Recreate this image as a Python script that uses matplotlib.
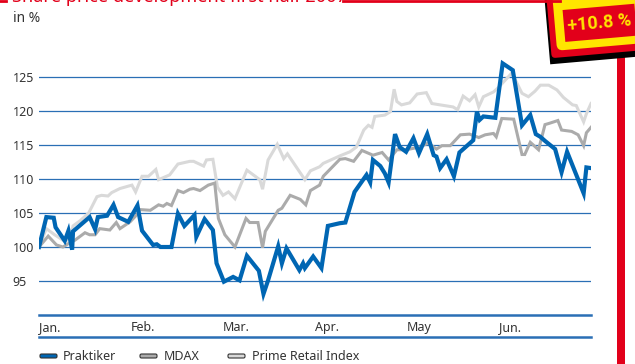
import numpy as np
import matplotlib
matplotlib.use('Agg')
import matplotlib.pyplot as plt
from matplotlib.patches import Rectangle, FancyBboxPatch
from matplotlib.transforms import Affine2D

# x positions in months since 1 Jan (0 = Jan, 6 = end of Jun), values indexed to 100
prak_x = [0, 0.08, 0.16, 0.18, 0.28, 0.32, 0.36, 0.37, 0.55, 0.61, 0.64, 0.74, 0.81, 0.86,
          0.97, 1.07, 1.12, 1.24, 1.28, 1.32, 1.44, 1.51, 1.58, 1.69, 1.71, 1.80, 1.89, 1.93,
          2.01, 2.11, 2.18, 2.26, 2.39, 2.44, 2.49, 2.60, 2.64, 2.69, 2.83, 2.87, 2.89, 2.98,
          3.07, 3.14, 3.27, 3.33, 3.43, 3.56, 3.60, 3.63, 3.71, 3.76, 3.80, 3.87, 3.92, 3.99,
          4.07, 4.13, 4.22, 4.29, 4.32, 4.36, 4.43, 4.51, 4.57, 4.72, 4.76, 4.79, 4.83, 4.96,
          5.04, 5.15, 5.25, 5.34, 5.40, 5.45, 5.50, 5.61, 5.68, 5.74, 5.92, 5.95, 6.0]
prak_y = [100, 104.4, 104.3, 102.9, 100.9, 102.4, 99.6, 102.3, 104.4, 102.6, 104.4, 104.6, 106.2, 104.4,
          103.7, 106.1, 102.4, 100.3, 100.4, 100, 100, 104.9, 103.1, 104.7, 101.5, 104.1, 102.5, 97.6,
          94.9, 95.6, 95.1, 98.7, 96.5, 93.1, 95.1, 100.1, 97.6, 99.8, 96.6, 97.6, 96.9, 98.6,
          96.9, 103.1, 103.5, 103.6, 108.1, 110.6, 109.5, 112.8, 111.9, 110.8, 109.5, 116.6, 114.7, 114.0,
          116.0, 113.8, 116.6, 113.5, 113.3, 111.6, 112.9, 110.4, 113.9, 115.7, 119.9, 118.7, 119.2, 119.0,
          127.0, 126.0, 117.9, 119.4, 116.6, 116.2, 115.6, 114.4, 111.0, 114.0, 107.9, 111.7, 111.6]

mdax_x = [0, 0.10, 0.19, 0.26, 0.32, 0.39, 0.50, 0.55, 0.61, 0.66, 0.77, 0.84, 0.88, 0.99,
          1.06, 1.10, 1.21, 1.30, 1.35, 1.39, 1.44, 1.51, 1.57, 1.64, 1.68, 1.75, 1.84, 1.91,
          1.95, 2.02, 2.13, 2.25, 2.29, 2.38, 2.43, 2.46, 2.60, 2.64, 2.73, 2.84, 2.90, 2.95,
          3.05, 3.09, 3.27, 3.33, 3.42, 3.51, 3.63, 3.73, 3.80, 3.89, 3.99, 4.14, 4.23, 4.32,
          4.38, 4.47, 4.58, 4.68, 4.78, 4.85, 4.94, 4.97, 5.03, 5.16, 5.25, 5.28, 5.34, 5.43,
          5.50, 5.55, 5.64, 5.68, 5.79, 5.86, 5.92, 5.95, 6.0]
mdax_y = [100, 101.6, 100.3, 100, 100.5, 101, 102.1, 101.8, 101.8, 102.7, 102.5, 103.6, 102.7, 103.7,
          104.7, 105.5, 105.4, 106.2, 106, 106.4, 106.1, 108.3, 108, 108.5, 108.6, 108.3, 109.1, 109.4,
          104.2, 101.8, 100, 104.2, 103.6, 103.6, 99.9, 102.3, 105.4, 105.7, 107.6, 107, 106.2, 108.3,
          109.1, 110.4, 112.9, 113, 112.6, 114.2, 113.5, 113.9, 112.8, 114.3, 114.3, 114.7, 115.3, 114.4,
          114.9, 114.9, 116.5, 116.6, 116.1, 116.5, 116.7, 116.2, 118.9, 118.8, 113.6, 113.6, 115.4, 114.3,
          118, 118.2, 118.6, 117.2, 117, 116.5, 114.9, 116.8, 117.6]

prime_x = [0, 0.08, 0.17, 0.26, 0.34, 0.37, 0.45, 0.54, 0.63, 0.68, 0.75, 0.79, 0.88, 1.01,
           1.05, 1.12, 1.19, 1.27, 1.30, 1.42, 1.51, 1.64, 1.68, 1.79, 1.82, 1.89, 1.94, 2.00,
           2.06, 2.13, 2.26, 2.40, 2.43, 2.49, 2.59, 2.66, 2.70, 2.89, 2.95, 3.05, 3.09, 3.27,
           3.38, 3.45, 3.53, 3.58, 3.62, 3.65, 3.76, 3.82, 3.86, 3.89, 3.94, 4.03, 4.11, 4.21,
           4.27, 4.36, 4.50, 4.55, 4.61, 4.68, 4.74, 4.78, 4.83, 4.94, 4.99, 5.14, 5.25, 5.32,
           5.39, 5.45, 5.54, 5.63, 5.70, 5.80, 5.84, 5.92, 5.95, 6.0]
prime_y = [100, 102.7, 101.8, 101, 101, 103.1, 103.9, 105, 107.4, 107.6, 107.5, 108, 108.6, 109.1,
           108.1, 110.4, 110.4, 111.4, 109.9, 110.6, 112.2, 112.6, 112.6, 111.9, 112.8, 112.9, 108.8, 107.6,
           108.1, 107.1, 111.3, 109.9, 108.5, 112.8, 115.1, 113, 113.7, 109.9, 111.2, 111.8, 112.3, 113.4,
           114, 114.7, 117.2, 117.9, 117.6, 119.2, 119.4, 119.9, 123.2, 121.4, 120.9, 121.2, 122.5, 122.7,
           121.1, 120.9, 120.6, 120.2, 122.2, 121.5, 122.4, 120.6, 122.1, 122.8, 123.4, 125.6, 122.6, 122.1,
           122.9, 123.8, 123.8, 123.1, 122, 120.9, 120.8, 118.4, 119.6, 121.1]

months = ['Jan.', 'Feb.', 'Mar.', 'Apr.', 'May', 'Jun.']
yticks = [95, 100, 105, 110, 115, 120, 125]
series_names = ['Praktiker', 'MDAX', 'Prime Retail Index']
title = 'Share price development first half 2007'
badge = '+10.8 %'

blue = '#0066b3'
grid_blue = '#2a6fb5'
mdax_grey = '#ababab'
prime_grey = '#d9d9d9'
red = '#e2001a'
yellow = '#ffe500'
txt = '#333333'

plt.rcParams['font.family'] = ['Noto Sans', 'DejaVu Sans']

fig = plt.figure(figsize=(6.35, 3.64), dpi=100)
fig.patch.set_facecolor('white')

ax = fig.add_axes([39 / 635, 1 - 315 / 364, 552 / 635, 272 / 364])
ax.set_xlim(0, 6)
ax.set_ylim(90, 130)
for s in ax.spines.values():
    s.set_visible(False)

for v in yticks:
    ax.axhline(v, color=grid_blue, lw=0.9, zorder=1)
ax.axhline(90, color=grid_blue, lw=1.8, zorder=1, clip_on=False)

ax.plot(prime_x, prime_y, color=prime_grey, lw=2.2, zorder=2, solid_joinstyle='miter')
ax.plot(mdax_x, mdax_y, color=mdax_grey, lw=2.2, zorder=3, solid_joinstyle='miter')
ax.plot(prak_x, prak_y, color=blue, lw=3.0, zorder=4, solid_joinstyle='miter')

ax.set_yticks(yticks)
ax.set_yticklabels([str(v) for v in yticks], ha='left')
ax.tick_params(axis='y', length=0, pad=19, labelsize=9, labelcolor=txt)
ax.set_xticks(range(6))
ax.set_xticklabels(months, ha='left')
ax.tick_params(axis='x', length=0, pad=4, labelsize=9, labelcolor=txt)

# overlay in pixel coordinates for decoration
ov = fig.add_axes([0, 0, 1, 1], zorder=10)
ov.set_xlim(0, 635)
ov.set_ylim(364, 0)
ov.axis('off')
ov.patch.set_alpha(0)

ov.plot([39, 591], [337, 337], color=grid_blue, lw=1.8)
ov.text(13, 18, 'in %', fontsize=10, color=txt, va='center', ha='left')

# title strip at the top (mostly cut by the figure edge, as in the source)
ov.plot([0, 6], [0.5, 0.5], color=red, lw=2)
ov.plot([343, 560], [0.5, 0.5], color=red, lw=2)
ov.text(12, 1.5, title, fontsize=13, fontweight='bold', color=red, ha='left', va='baseline')

# legend
sw_cols = [blue, mdax_grey, prime_grey]
sw_x = [40, 140, 228]
lab_x = [63, 164, 252]
for name, c, sx, lx in zip(series_names, sw_cols, sw_x, lab_x):
    ov.add_patch(FancyBboxPatch((sx, 354), 17, 4, boxstyle='round,pad=0,rounding_size=1.5',
                                facecolor=c, edgecolor='#333333', lw=0.8))
    ov.text(lx, 356, name, fontsize=9, color=txt, va='center', ha='left')

# signpost
ov.add_patch(Rectangle((617, 50), 8, 320, facecolor=red, edgecolor='none'))
rot = Affine2D().rotate_deg_around(598, 25, -5) + ov.transData
ov.add_patch(Rectangle((547, -12), 100, 72, facecolor='black', transform=rot))
ov.add_patch(FancyBboxPatch((549, -12), 98, 66, boxstyle='round,pad=0,rounding_size=4',
                            facecolor=red, edgecolor='none', transform=rot))
ov.add_patch(FancyBboxPatch((555, -12), 92, 59, boxstyle='round,pad=0,rounding_size=6',
                            facecolor=yellow, edgecolor='none', transform=rot))
ov.add_patch(Rectangle((564, 7), 72, 32, facecolor=red, edgecolor='none', transform=rot))
ov.text(599, 23, badge, fontsize=13, fontweight='bold', color=yellow, ha='center', va='center',
        rotation=5, family='Roboto')

fig.savefig('out.png', dpi=100)
